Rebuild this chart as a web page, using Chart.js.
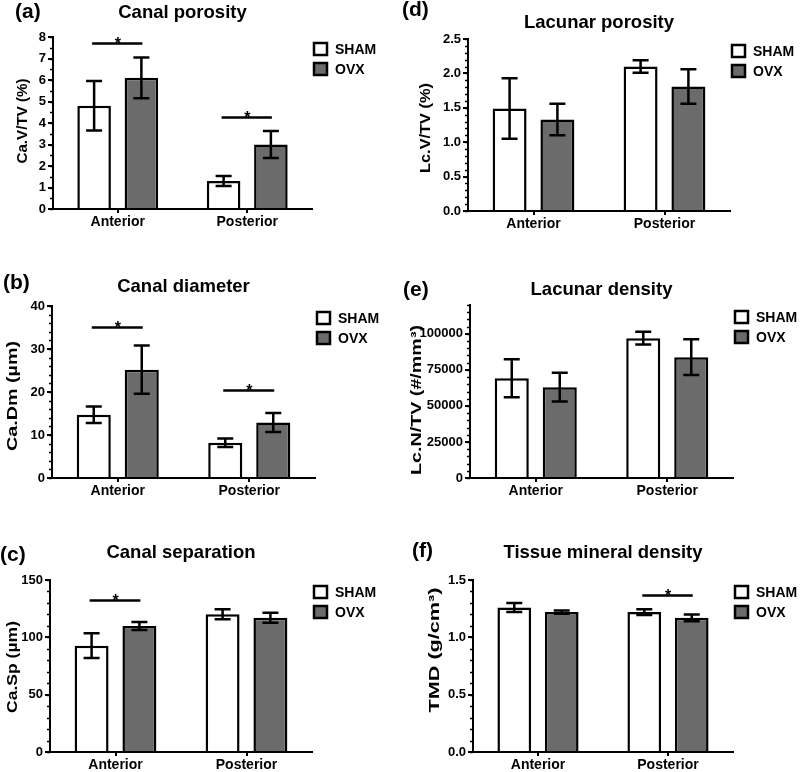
<!DOCTYPE html>
<html>
<head>
<meta charset="utf-8">
<script src="https://cdn.jsdelivr.net/npm/chart.js@4.4.1/dist/chart.umd.min.js"></script>
<style>
  body { margin: 0; background: #fff; }
  #wrap { position: relative; width: 800px; height: 772px; overflow: hidden; }
  #wrap canvas { position: absolute; }
</style>
</head>
<body>
<div id="wrap"></div>
<script>
// categories and groups
const categories = ['Anterior', 'Posterior'];
const groups = ['SHAM', 'OVX'];

// (a) Canal porosity, Ca.V/TV (%)
const poroSham = [4.8, 1.3];
const poroShamSd = [1.15, 0.23];
const poroOvx = [6.1, 3.0];
const poroOvxSd = [0.95, 0.63];
const poroSig = [7.7, 4.3];          // height of the "*" bar per category, null = none

// (b) Canal diameter, Ca.Dm (µm)
const diamSham = [14.7, 8.2];
const diamShamSd = [1.9, 1.0];
const diamOvx = [25.2, 12.9];
const diamOvxSd = [5.6, 2.2];
const diamSig = [35.2, 20.5];

// (c) Canal separation, Ca.Sp (µm)
const sepSham = [92.7, 120.1];
const sepShamSd = [10.8, 4.4];
const sepOvx = [109.9, 117.1];
const sepOvxSd = [3.4, 4.4];
const sepSig = [132.5, null];

// (d) Lacunar porosity, Lc.V/TV (%)
const lcPoroSham = [1.49, 2.10];
const lcPoroShamSd = [0.44, 0.09];
const lcPoroOvx = [1.33, 1.81];
const lcPoroOvxSd = [0.23, 0.25];
const lcPoroSig = [null, null];

// (e) Lacunar density, Lc.N/TV (#/mm3)
const lcDensSham = [69200, 97000];
const lcDensShamSd = [13200, 4400];
const lcDensOvx = [63000, 83800];
const lcDensOvxSd = [10000, 12400];
const lcDensSig = [null, null];

// (f) Tissue mineral density, TMD (g/cm3)
const tmdSham = [1.26, 1.22];
const tmdShamSd = [0.04, 0.025];
const tmdOvx = [1.22, 1.17];
const tmdOvxSd = [0.015, 0.03];
const tmdSig = [null, 1.37];

const FONT = '"Liberation Sans", Arial, sans-serif';
const OVX_GREY = '#6b6b6b';

Chart.defaults.font.family = FONT;
Chart.defaults.color = '#000';

// page layout of each panel (yt = axis title centre and drawn length)
const panels = [
  { label: '(a)', title: 'Canal porosity', yTitle: 'Ca.V/TV (%)', max: 8, tickMax: 8, step: 1, minor: 0.5, dec: 0,
    sham: poroSham, shamSd: poroShamSd, ovx: poroOvx, ovxSd: poroOvxSd, sig: poroSig,
    cv: { x: 0, y: 0, h: 240 }, area: { l: 53, t: 37, r: 312, b: 209 }, yt: { x: 23, y: 121, len: 85 }, titleY: 13, lab: { x: 15, y: 12 } },
  { label: '(b)', title: 'Canal diameter', yTitle: 'Ca.Dm (µm)', max: 40, tickMax: 40, step: 10, minor: 2, dec: 0,
    sham: diamSham, shamSd: diamShamSd, ovx: diamOvx, ovxSd: diamOvxSd, sig: diamSig,
    cv: { x: 0, y: 240, h: 260 }, area: { l: 52, t: 306, r: 315, b: 478 }, yt: { x: 13, y: 396, len: 110 }, titleY: 287, lab: { x: 3, y: 283 } },
  { label: '(c)', title: 'Canal separation', yTitle: 'Ca.Sp (µm)', max: 150, tickMax: 150, step: 50, minor: 10, dec: 0,
    sham: sepSham, shamSd: sepShamSd, ovx: sepOvx, ovxSd: sepOvxSd, sig: sepSig,
    cv: { x: 0, y: 500, h: 272 }, area: { l: 50, t: 580, r: 312, b: 752 }, yt: { x: 13, y: 667, len: 92 }, titleY: 553, lab: { x: 0, y: 555 } },
  { label: '(d)', title: 'Lacunar porosity', yTitle: 'Lc.V/TV (%)', max: 2.5, tickMax: 2.5, step: 0.5, minor: 0.1, dec: 1,
    sham: lcPoroSham, shamSd: lcPoroShamSd, ovx: lcPoroOvx, ovxSd: lcPoroOvxSd, sig: lcPoroSig,
    cv: { x: 400, y: 0, h: 240 }, area: { l: 468, t: 39, r: 730, b: 211 }, yt: { x: 426, y: 128, len: 90 }, titleY: 23, lab: { x: 402, y: 10 } },
  { label: '(e)', title: 'Lacunar density', yTitle: 'Lc.N/TV (#/mm³)', max: 120000, tickMax: 100000, step: 25000, minor: 5000, dec: 0,
    sham: lcDensSham, shamSd: lcDensShamSd, ovx: lcDensOvx, ovxSd: lcDensOvxSd, sig: lcDensSig,
    cv: { x: 400, y: 240, h: 260 }, area: { l: 470, t: 305, r: 733, b: 478 }, yt: { x: 417, y: 400, len: 150 }, titleY: 290, lab: { x: 403, y: 290 } },
  { label: '(f)', title: 'Tissue mineral density', yTitle: 'TMD (g/cm³)', max: 1.5, tickMax: 1.5, step: 0.5, minor: 0.1, dec: 1,
    sham: tmdSham, shamSd: tmdShamSd, ovx: tmdOvx, ovxSd: tmdOvxSd, sig: tmdSig,
    cv: { x: 400, y: 500, h: 272 }, area: { l: 473, t: 580, r: 733, b: 752 }, yt: { x: 435, y: 650, len: 125 }, titleY: 553, lab: { x: 412, y: 551 } }
];

// error bars, significance bars, titles, legend, minor ticks
const panelPlugin = {
  id: 'panel',
  afterDatasetsDraw(chart, args, opts) {
    const ctx = chart.ctx, ys = chart.scales.y;
    ctx.save();
    ctx.strokeStyle = '#000';
    ctx.lineWidth = 2.5;
    chart.data.datasets.forEach((ds, di) => {
      const meta = chart.getDatasetMeta(di);
      ds.data.forEach((v, i) => {
        const x = meta.data[i].x, sd = opts.errors[di][i];
        const hi = ys.getPixelForValue(v + sd), lo = ys.getPixelForValue(v - sd);
        ctx.beginPath();
        ctx.moveTo(x, hi); ctx.lineTo(x, lo);
        ctx.moveTo(x - 8, hi); ctx.lineTo(x + 8, hi);
        ctx.moveTo(x - 8, lo); ctx.lineTo(x + 8, lo);
        ctx.stroke();
      });
    });
    opts.sig.forEach((h, i) => {
      if (h == null) return;
      const x0 = chart.getDatasetMeta(0).data[i].x;
      const x1 = chart.getDatasetMeta(1).data[i].x;
      const py = Math.round(ys.getPixelForValue(h)) + 0.5;
      ctx.beginPath();
      ctx.moveTo(x0 - 2, py); ctx.lineTo(x1 + 1, py);
      ctx.stroke();
      ctx.fillStyle = '#000';
      ctx.font = 'bold 16px ' + FONT;
      ctx.textAlign = 'center';
      ctx.textBaseline = 'alphabetic';
      ctx.fillText('*', (x0 + x1) / 2, py + 5);
    });
    ctx.restore();
  },
  afterDraw(chart, args, opts) {
    const ctx = chart.ctx, a = chart.chartArea, ys = chart.scales.y;
    ctx.save();
    // minor ticks
    ctx.strokeStyle = '#000';
    ctx.lineWidth = 1.5;
    ctx.beginPath();
    for (let v = 0; v <= opts.max + 1e-9; v += opts.minor) {
      const py = Math.round(ys.getPixelForValue(v)) + 0.5;
      ctx.moveTo(a.left - 3, py); ctx.lineTo(a.left, py);
    }
    ctx.stroke();
    ctx.fillStyle = '#000';
    // y axis title, stretched along its length like the source figure
    ctx.save();
    ctx.font = 'bold 15px ' + FONT;
    ctx.textAlign = 'center';
    ctx.textBaseline = 'middle';
    const w = ctx.measureText(opts.yTitle).width;
    ctx.translate(opts.yt.x, opts.yt.y);
    ctx.rotate(-Math.PI / 2);
    ctx.scale(opts.yt.len / w, 1);
    ctx.fillText(opts.yTitle, 0, 0);
    ctx.restore();
    // panel title
    ctx.font = 'bold 18.5px ' + FONT;
    ctx.textAlign = 'center';
    ctx.textBaseline = 'middle';
    ctx.fillText(opts.title, (a.left + a.right) / 2, opts.titleY);
    // panel letter
    ctx.font = 'bold 21px ' + FONT;
    ctx.textAlign = 'left';
    ctx.fillText(opts.label, opts.labX, opts.labY);
    // legend
    ctx.font = 'bold 14px ' + FONT;
    chart.data.datasets.forEach((ds, di) => {
      const cy = a.top + 12 + di * 20;
      const bx = a.right + 2;
      ctx.fillStyle = ds.backgroundColor;
      ctx.fillRect(bx, cy - 6, 13, 12);
      ctx.strokeStyle = '#000';
      ctx.lineWidth = 2.5;
      ctx.strokeRect(bx, cy - 6, 13, 12);
      ctx.fillStyle = '#000';
      ctx.fillText(ds.label, bx + 21, cy + 1);
    });
    ctx.restore();
  }
};

const wrap = document.getElementById('wrap');

panels.forEach(p => {
  const cv = document.createElement('canvas');
  cv.width = 400;
  cv.height = p.cv.h;
  cv.style.left = p.cv.x + 'px';
  cv.style.top = p.cv.y + 'px';
  wrap.appendChild(cv);

  const yWidth = p.area.l - p.cv.x;
  const xHeight = p.cv.y + p.cv.h - p.area.b;

  new Chart(cv.getContext('2d'), {
    type: 'bar',
    data: {
      labels: categories,
      datasets: [
        { label: groups[0], data: p.sham, backgroundColor: '#ffffff', borderColor: '#000', borderWidth: 2.5, borderSkipped: 'start' },
        { label: groups[1], data: p.ovx, backgroundColor: OVX_GREY, borderColor: '#000', borderWidth: 2.5, borderSkipped: 'start' }
      ]
    },
    options: {
      responsive: false,
      animation: false,
      devicePixelRatio: 1,
      datasets: { bar: { categoryPercentage: 0.73, barPercentage: 0.71 } },
      layout: {
        padding: { left: 0, top: p.area.t - p.cv.y, right: p.cv.x + 400 - p.area.r, bottom: 0 }
      },
      plugins: {
        legend: { display: false },
        tooltip: { enabled: false },
        panel: {
          title: p.title, titleY: p.titleY - p.cv.y,
          label: p.label, labX: p.lab.x - p.cv.x, labY: p.lab.y - p.cv.y,
          yTitle: p.yTitle, yt: { x: p.yt.x - p.cv.x, y: p.yt.y - p.cv.y, len: p.yt.len },
          errors: [p.shamSd, p.ovxSd], sig: p.sig, max: p.max, minor: p.minor
        }
      },
      scales: {
        x: {
          offset: true,
          grid: { display: true, offset: false, drawOnChartArea: false, drawTicks: true, tickLength: 4, color: '#000', lineWidth: 2 },
          border: { display: true, color: '#000', width: 2 },
          ticks: { font: { size: 14, weight: 'bold' }, color: '#000', padding: 1, maxRotation: 0 },
          afterFit(s) { s.height = xHeight; }
        },
        y: {
          min: 0,
          max: p.max,
          grid: { display: true, drawOnChartArea: false, drawTicks: true, tickLength: 5, color: '#000', lineWidth: 2 },
          border: { display: true, color: '#000', width: 2 },
          ticks: {
            font: { size: 13, weight: 'bold' },
            color: '#000',
            padding: 2,
            callback: v => v.toFixed(p.dec)
          },
          afterBuildTicks(s) {
            const t = [];
            for (let v = 0; v <= p.tickMax + 1e-9; v += p.step) t.push({ value: +v.toFixed(6) });
            s.ticks = t;
          },
          title: { display: false },
          afterFit(s) { s.width = yWidth; }
        }
      }
    },
    plugins: [panelPlugin]
  });
});
</script>
</body>
</html>
